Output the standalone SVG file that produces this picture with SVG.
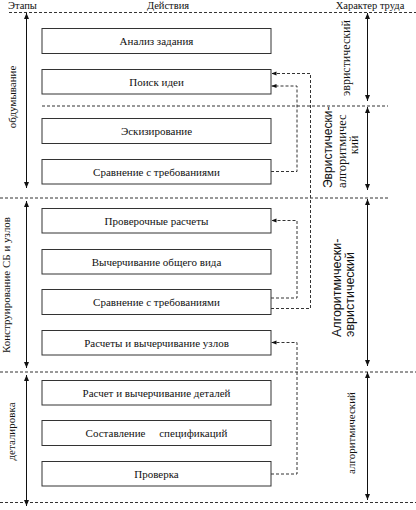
<svg xmlns="http://www.w3.org/2000/svg" width="416" height="510" viewBox="0 0 416 510">
<defs>
<style>
text{font-family:"Liberation Serif","Times New Roman",serif;fill:#111}
.hd{font-size:10.5px}
.bt{font-size:11px;text-anchor:middle}
.lab{font-size:11px;text-anchor:middle}
.sans{font-family:"Liberation Sans",Arial,sans-serif}
rect{fill:#fff;stroke:#333;stroke-width:1}
.sep{stroke:#333;stroke-width:1;stroke-dasharray:3,2;fill:none}
.dc{stroke:#333;stroke-width:1;stroke-dasharray:3,2;fill:none;marker-end:url(#sa)}
.ar{stroke:#111;stroke-width:1;fill:none;marker-start:url(#ah);marker-end:url(#ah)}
</style>
<marker id="ah" markerUnits="userSpaceOnUse" markerWidth="6" markerHeight="7" refX="6" refY="3" orient="auto-start-reverse" viewBox="0 0 6 6">
<path d="M0,0.5 L6,3 L0,5.5 z" fill="#111"/>
</marker>
<marker id="sa" markerUnits="userSpaceOnUse" markerWidth="5" markerHeight="5" refX="5" refY="2.5" orient="auto" viewBox="0 0 5 5">
<path d="M0,0.5 L5,2.5 L0,4.5 z" fill="#111"/>
</marker>
</defs>

<g id="header">
<text class="hd" x="8" y="9">Этапы</text>
<text class="hd" x="168" y="9" text-anchor="middle">Действия</text>
<text class="hd" x="370" y="9" text-anchor="middle">Характер труда</text>
</g>

<g id="separators">
<line class="sep" x1="9" y1="12.5" x2="416" y2="12.5"/>
<line class="sep" x1="42" y1="106" x2="388" y2="106"/>
<line class="sep" x1="0" y1="198" x2="390" y2="198"/>
<line class="sep" x1="0" y1="372" x2="416" y2="372"/>
<line class="sep" x1="0" y1="502.5" x2="416" y2="502.5"/>
</g>

<g id="stage-arrows">
<line class="ar" x1="26.5" y1="13" x2="26.5" y2="188"/>
<line class="ar" x1="26.5" y1="201" x2="26.5" y2="368"/>
<line class="ar" x1="26.5" y1="375" x2="26.5" y2="506"/>
<line class="ar" x1="367.5" y1="13" x2="367.5" y2="101"/>
<line class="ar" x1="367.5" y1="107" x2="367.5" y2="190"/>
<line class="ar" x1="367.5" y1="199" x2="367.5" y2="366"/>
<line class="ar" x1="367.5" y1="372" x2="367.5" y2="500"/>
</g>

<g id="stage-labels">
<text class="lab" transform="translate(15.5,97) rotate(-90)">обдумывание</text>
<text class="lab" transform="translate(9.5,285) rotate(-90)">Конструирование СБ и узлов</text>
<text class="lab" transform="translate(15,431.5) rotate(-90)">деталировка</text>
</g>

<g id="type-labels">
<text style="font-size:12px;text-anchor:middle" transform="translate(350,58) rotate(-90)">эвристический</text>
<text class="sans" style="font-size:12px" transform="translate(331.5,188) rotate(-90)">Эвристически-</text>
<text style="font-size:12.5px" transform="translate(346,188) rotate(-90)">алгоритмичес</text>
<text style="font-size:12px;text-anchor:middle" transform="translate(357.5,145) rotate(-90)">кий</text>
<text class="sans" style="font-size:12.5px" transform="translate(340.5,337) rotate(-90)">Алгоритмически-</text>
<text class="sans" style="font-size:12.5px" transform="translate(354,337) rotate(-90)">эвристический</text>
<text style="font-size:11px;text-anchor:middle" transform="translate(354.5,433) rotate(-90)">алгоритмический</text>
</g>

<g id="n1"><rect x="42" y="28.5" width="229" height="25"/><text class="bt" x="156.5" y="45">Анализ задания</text></g>
<g id="n2"><rect x="42" y="69.5" width="229" height="24.5"/><text class="bt" x="156.5" y="85.5">Поиск идеи</text></g>
<g id="n3"><rect x="42" y="118.5" width="229" height="25"/><text class="bt" x="156.5" y="135">Эскизирование</text></g>
<g id="n4"><rect x="42" y="159.5" width="229" height="24.5"/><text class="bt" x="156.5" y="175.5">Сравнение с требованиями</text></g>
<g id="n5"><rect x="42" y="208.5" width="229" height="24.5"/><text class="bt" x="156.5" y="224.5">Проверочные расчеты</text></g>
<g id="n6"><rect x="42" y="249.5" width="229" height="24.5"/><text class="bt" x="156.5" y="265.5">Вычерчивание общего вида</text></g>
<g id="n7"><rect x="42" y="289.5" width="229" height="25"/><text class="bt" x="156.5" y="306">Сравнение с требованиями</text></g>
<g id="n8"><rect x="42" y="330.5" width="229" height="24.5"/><text class="bt" x="156.5" y="346.5">Расчеты и вычерчивание узлов</text></g>
<g id="n9"><rect x="42" y="380.5" width="229" height="24.5"/><text class="bt" x="156.5" y="396.5">Расчет и вычерчивание деталей</text></g>
<g id="n10"><rect x="42" y="420.5" width="229" height="25"/><text class="bt" x="156.5" y="437" xml:space="preserve">Составление     спецификаций</text></g>
<g id="n11"><rect x="42" y="461.5" width="229" height="24.5"/><text class="bt" x="156.5" y="477.5">Проверка</text></g>

<g id="connectors">
<path class="dc" d="M271,308.5 H310.5 V73.5 H271.5"/>
<path class="dc" d="M271,171.5 H297 V86 H271.5"/>
<path class="dc" d="M271,298 H297 V220.5 H271.5"/>
<path class="dc" d="M271,474 H297 V342.5 H271.5"/>
</g>
</svg>
